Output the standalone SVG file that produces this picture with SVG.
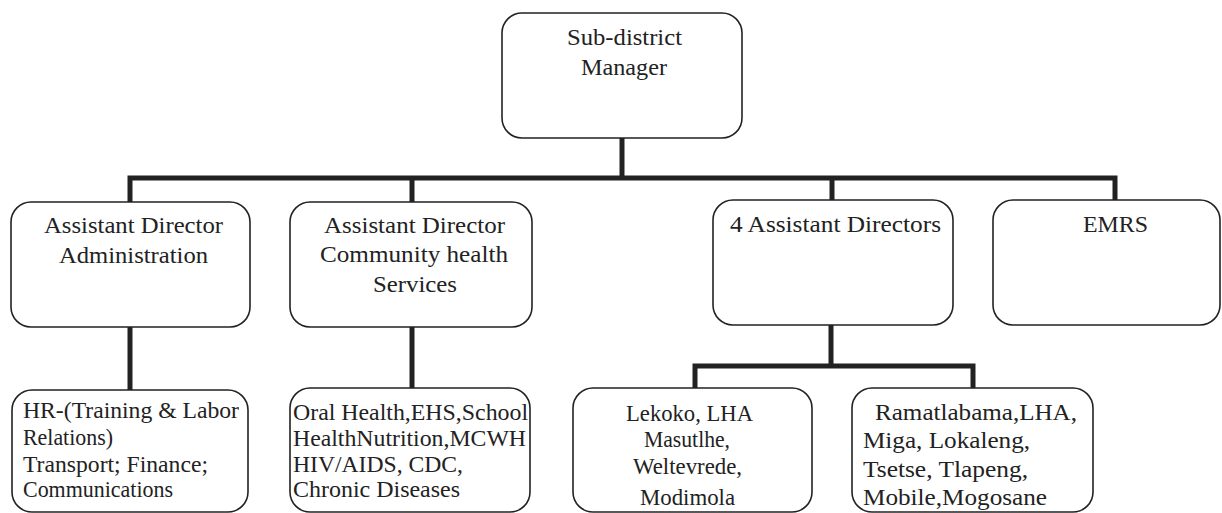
<svg xmlns="http://www.w3.org/2000/svg" width="1222" height="513" viewBox="0 0 1222 513">
<style>
.box{fill:#fff;stroke:#222;stroke-width:1.6}
.t{font-family:"Liberation Serif","Times New Roman",serif;font-size:24px;fill:#222}
.c{fill:none;stroke:#222;stroke-width:5;stroke-linecap:square;stroke-linejoin:miter}
</style>
<rect width="1222" height="513" fill="#fff"/>
<g id="connectors">
<path class="c" d="M622,138 V178 M130,178 H1115 M130,178 V202 M412,178 V202 M832,178 V200 M1115,178 V200"/>
<path class="c" d="M130,327 V390 M412,327 V388"/>
<path class="c" d="M831,325 V366 M695,366 H973 M695,366 V388 M973,366 V388"/>
</g>
<g id="n-manager">
<rect class="box" x="502" y="13" width="240" height="125" rx="20"/>
<text class="t" x="567" y="45" textLength="115" lengthAdjust="spacingAndGlyphs">Sub-district</text>
<text class="t" x="581" y="75" textLength="86" lengthAdjust="spacingAndGlyphs">Manager</text>
</g>
<g id="n-admin">
<rect class="box" x="11" y="202" width="239" height="125" rx="20"/>
<text class="t" x="44" y="233" textLength="179" lengthAdjust="spacingAndGlyphs">Assistant Director</text>
<text class="t" x="59" y="263" textLength="149" lengthAdjust="spacingAndGlyphs">Administration</text>
</g>
<g id="n-community">
<rect class="box" x="290" y="202" width="242" height="125" rx="20"/>
<text class="t" x="324" y="233" textLength="181" lengthAdjust="spacingAndGlyphs">Assistant Director</text>
<text class="t" x="320" y="262" textLength="188" lengthAdjust="spacingAndGlyphs">Community health</text>
<text class="t" x="373" y="292" textLength="84" lengthAdjust="spacingAndGlyphs">Services</text>
</g>
<g id="n-four">
<rect class="box" x="713" y="200" width="240" height="125" rx="20"/>
<text class="t" x="730" y="232" textLength="211" lengthAdjust="spacingAndGlyphs">4 Assistant Directors</text>
</g>
<g id="n-emrs">
<rect class="box" x="993" y="200" width="227" height="125" rx="20"/>
<text class="t" x="1083" y="232" textLength="65" lengthAdjust="spacingAndGlyphs">EMRS</text>
</g>
<g id="n-hr">
<rect class="box" x="12" y="390" width="236" height="122" rx="20"/>
<text class="t" x="23" y="418" textLength="216" lengthAdjust="spacingAndGlyphs">HR-(Training &amp; Labor</text>
<text class="t" x="23" y="445" textLength="90" lengthAdjust="spacingAndGlyphs">Relations)</text>
<text class="t" x="23" y="472" textLength="185" lengthAdjust="spacingAndGlyphs">Transport; Finance;</text>
<text class="t" x="23" y="497" textLength="150" lengthAdjust="spacingAndGlyphs">Communications</text>
</g>
<g id="n-oral">
<rect class="box" x="290" y="388" width="240" height="124" rx="20"/>
<text class="t" x="293" y="420" textLength="235" lengthAdjust="spacingAndGlyphs">Oral Health,EHS,School</text>
<text class="t" x="293" y="446" textLength="233" lengthAdjust="spacingAndGlyphs">HealthNutrition,MCWH</text>
<text class="t" x="293" y="472" textLength="170" lengthAdjust="spacingAndGlyphs">HIV/AIDS, CDC,</text>
<text class="t" x="293" y="497" textLength="167" lengthAdjust="spacingAndGlyphs">Chronic Diseases</text>
</g>
<g id="n-lekoko">
<rect class="box" x="573" y="388" width="239" height="124" rx="20"/>
<text class="t" x="626" y="421" textLength="127" lengthAdjust="spacingAndGlyphs">Lekoko, LHA</text>
<text class="t" x="644" y="447" textLength="86" lengthAdjust="spacingAndGlyphs">Masutlhe,</text>
<text class="t" x="633" y="474" textLength="109" lengthAdjust="spacingAndGlyphs">Weltevrede,</text>
<text class="t" x="640" y="505" textLength="95" lengthAdjust="spacingAndGlyphs">Modimola</text>
</g>
<g id="n-ramatlabama">
<rect class="box" x="852" y="388" width="241" height="124" rx="20"/>
<text class="t" x="875" y="420" textLength="202" lengthAdjust="spacingAndGlyphs">Ramatlabama,LHA,</text>
<text class="t" x="863" y="448" textLength="167" lengthAdjust="spacingAndGlyphs">Miga, Lokaleng,</text>
<text class="t" x="863" y="477" textLength="165" lengthAdjust="spacingAndGlyphs">Tsetse, Tlapeng,</text>
<text class="t" x="863" y="505" textLength="184" lengthAdjust="spacingAndGlyphs">Mobile,Mogosane</text>
</g>
</svg>
